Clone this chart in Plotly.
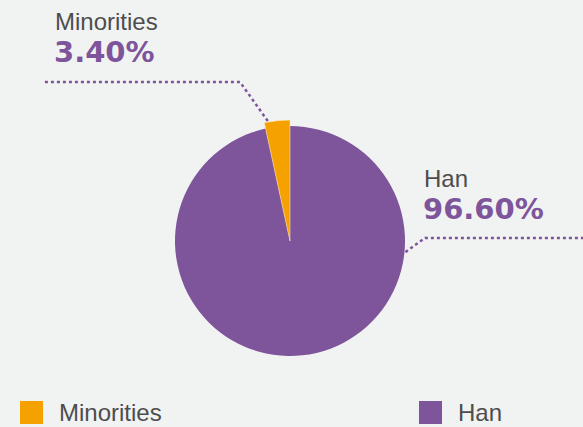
import math
import plotly.graph_objects as go

# ---- data ----
labels = ["Minorities", "Han"]
values = [3.4, 96.6]
pct_text = ["3.40%", "96.60%"]
colors = ["#f5a100", "#7e559b"]

W, H = 583, 427
BG = "#f1f3f2"
CX, CY = 290, 241       # pie centre (px)
R = 115                 # main radius
R_BIG = 121             # radius of the emphasised slice
LABEL_FONT = "Liberation Sans, Arial, sans-serif"
PCT_FONT = "DejaVu Sans, Verdana, sans-serif"
TEXT_COLOR = "#4d4d4d"


def px(x):
    return x / W


def py(y):
    return 1 - y / H


def dom(r):
    return dict(x=[px(CX - r), px(CX + r)], y=[py(CY + r), py(CY - r)])


fig = go.Figure()
fig.add_trace(go.Pie(
    labels=labels, values=values, sort=False, direction="clockwise",
    rotation=-values[0] / sum(values) * 360, textinfo="none", hoverinfo="label+percent",
    marker=dict(colors=colors, line=dict(width=0)),
    domain=dom(R), showlegend=False,
))
fig.add_trace(go.Pie(
    labels=labels, values=values, sort=False, direction="clockwise",
    rotation=-values[0] / sum(values) * 360, textinfo="none", hoverinfo="skip",
    marker=dict(colors=[colors[0], "rgba(0,0,0,0)"],
                line=dict(width=[0.6, 0], color="#fbe3b0")),
    domain=dom(R_BIG), showlegend=False,
))

shapes = []
annotations = []

# label anchors: angle on the pie (deg, math convention), elbow, line end, text pos
label_cfg = [
    dict(ang=100.5, rad=R_BIG + 1, elbow=(240, 82), end=(43, 82), tx=53, ty1=21, ty2=52),
    dict(ang=-5.5, rad=R + 1, elbow=(425, 238), end=(583, 238), tx=422, ty1=178, ty2=209),
]

for i, cfg in enumerate(label_cfg):
    a = math.radians(cfg["ang"])
    sx = CX + cfg["rad"] * math.cos(a)
    sy = CY - cfg["rad"] * math.sin(a)
    ex, ey = cfg["elbow"]
    fx, fy = cfg["end"]
    path = f"M {px(sx)},{py(sy)} L {px(ex)},{py(ey)} L {px(fx)},{py(fy)}"
    shapes.append(dict(type="path", xref="paper", yref="paper", path=path,
                       line=dict(color=colors[1], width=2.5, dash="dot")))
    annotations.append(dict(x=px(cfg["tx"]), y=py(cfg["ty1"]), xref="paper", yref="paper",
                            text=labels[i], showarrow=False, xanchor="left", yanchor="middle",
                            font=dict(family=LABEL_FONT, size=24, color=TEXT_COLOR)))
    annotations.append(dict(x=px(cfg["tx"] - 1), y=py(cfg["ty2"]), xref="paper", yref="paper",
                            text=f"<b>{pct_text[i]}</b>", showarrow=False, xanchor="left",
                            yanchor="middle",
                            font=dict(family=PCT_FONT, size=29, color=colors[1])))

# manual legend (large square swatches)
legend_x = [20, 419]
for i, lab in enumerate(labels):
    x0 = legend_x[i]
    shapes.append(dict(type="rect", xref="paper", yref="paper",
                       x0=px(x0), x1=px(x0 + 23), y0=py(424), y1=py(401),
                       fillcolor=colors[i], line=dict(width=0)))
    annotations.append(dict(x=px(x0 + 37), y=py(412), xref="paper", yref="paper",
                            text=lab, showarrow=False, xanchor="left", yanchor="middle",
                            font=dict(family=LABEL_FONT, size=24, color=TEXT_COLOR)))

fig.update_layout(
    width=W, height=H,
    margin=dict(l=0, r=0, t=0, b=0),
    paper_bgcolor=BG, plot_bgcolor=BG,
    showlegend=False,
    shapes=shapes, annotations=annotations,
)

fig.write_html("out.html")
